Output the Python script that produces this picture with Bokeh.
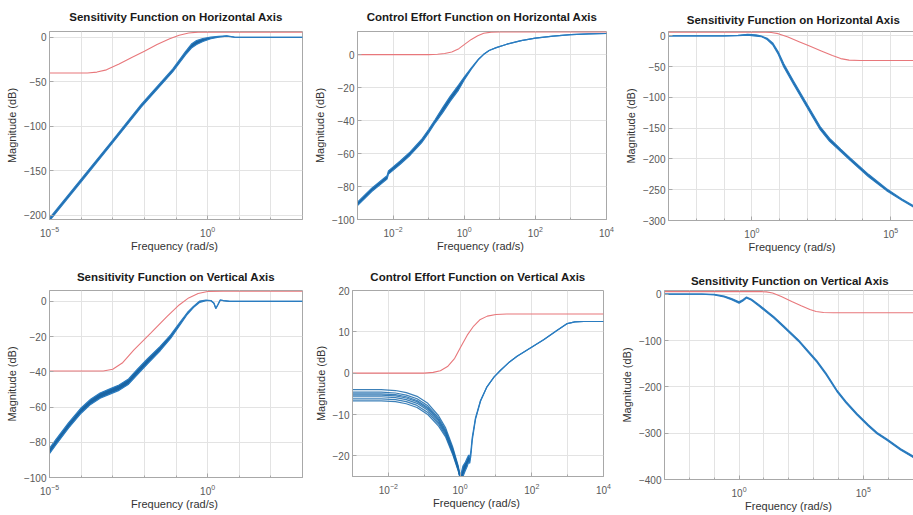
import numpy as np
from bokeh.plotting import figure
from bokeh.layouts import row, column
from bokeh.models import FixedTicker, Range1d
from bokeh.embed import file_html
from bokeh.resources import INLINE

# ---------------- data (x values are log10 of frequency in rad/s, y in dB) ----------------
# Panel 1: Sensitivity Function on Horizontal Axis
p1_x = [-5, -4, -3, -2.1, -1.1, -0.7, -0.5, -0.35, -0.15, 0.1, 0.35, 0.6, 0.85, 1.2, 3]
p1_hi = [-203.5, -159.5, -115.5, -75.5, -35.5, -16, -7, -3.5, -1.2, 0.3, 1.3, 1.9, 0.4, 0, 0]
p1_lo = [-206.5, -162.5, -118.5, -78.5, -38.5, -19.5, -11.5, -8, -4.5, -1.5, 0.3, 1.5, 0.2, 0, 0]
p1_rx = [-5, -3.8, -3.5, -3.2, -2.8, -2.4, -2.0, -1.6, -1.2, -0.9, -0.6, -0.3, 3]
p1_ry = [-40, -40, -39, -36.5, -30, -22.5, -15.5, -8, -1.5, 2.5, 5, 6, 6]

# Panel 2: Control Effort Function on Horizontal Axis
p2_x = [-3, -2.6, -2.17, -2.13, -1.8, -1.52, -1.2, -1.0, -0.82, -0.6, -0.4, -0.16, 0.0, 0.2, 0.4,
        0.54, 0.7, 0.9, 1.2, 1.6, 2.0, 2.5, 3.0, 3.5, 4.0]
p2_hi = [-89.5, -81, -73.5, -70.5, -64.5, -59, -51.5, -45.5, -39.5, -32, -25.5, -18.5, -13.6, -8, -2.8,
         0, 2.5, 4.2, 6.3, 8.5, 10, 11.2, 12.1, 12.6, 12.8]
p2_lo = [-91.5, -83, -75.5, -72.5, -66.5, -61, -53.5, -47.5, -41.5, -35, -28.5, -21.5, -15.4, -8.8, -3.0,
         0, 2.5, 4.2, 6.3, 8.5, 10, 11.2, 12.1, 12.6, 12.8]
p2_rx = [-3, -1, -0.75, -0.55, -0.35, -0.15, 0.01, 0.2, 0.38, 0.55, 0.76, 1.0, 4]
p2_ry = [0, 0, 0.2, 0.7, 1.6, 3.6, 6.2, 9.2, 11.4, 12.9, 13.6, 13.8, 13.8]

# Panel 3: Sensitivity Function on Horizontal Axis (right)
p3_x = [-3, -1, -0.5, -0.15, 0.15, 0.35, 0.55, 0.75, 0.95, 1.15, 1.5, 1.9, 2.2, 2.46, 2.8, 3.2,
        3.53, 4.2, 4.85, 5.4, 6]
p3_hi = [0, 0, 0.8, 2.5, 1.5, -0.5, -4, -11.5, -26, -45.5, -73.5, -104.5, -127.5, -147.5, -166.5,
         -184, -198, -225, -248.5, -265, -281]
p3_lo = [0, 0, 0.3, 1.0, -0.5, -1.5, -6, -14.5, -30, -50.5, -78.5, -109.5, -132.5, -152.5, -171.5,
         -188, -202, -229, -251.5, -267, -283]
p3_rx = [-3, 0.5, 0.7, 0.95, 1.3, 1.7, 2.1, 2.5, 2.9, 3.2, 3.5, 3.9, 6]
p3_ry = [6, 6, 5.5, 3.5, -2, -9.5, -17, -24.5, -32, -37, -39.5, -40, -40]

# Panel 4: Sensitivity Function on Vertical Axis
p4_x = [-5, -4.8, -4.4, -4.0, -3.7, -3.4, -3.07, -2.8, -2.5, -2.22, -1.9, -1.5, -1.17, -0.9, -0.64,
        -0.45, -0.25, -0.05, 0.1, 0.2, 0.26, 0.32, 0.4, 0.5, 0.7, 3]
p4_hi = [-83.5, -78.5, -69, -60.5, -55.5, -52, -49.5, -47.5, -44, -38.5, -32.5, -25.5, -19, -12.5,
         -6.3, -2.8, 0.2, 0.8, 0.5, -1, -4, -2, 0.8, 0.5, 0, 0]
p4_lo = [-86.5, -81.5, -72, -63.5, -58.5, -55, -52.5, -50.5, -47, -41.5, -35.5, -28, -21, -14,
         -7.3, -3.5, -0.5, 0.4, 0.5, -1, -4, -2, 0.8, 0.5, 0, 0]
p4_rx = [-5, -3.3, -3.0, -2.7, -2.33, -1.8, -1.28, -0.9, -0.6, -0.3, 0, 0.5, 3]
p4_ry = [-39.5, -39.5, -38.5, -35, -27.5, -18, -8.5, -2, 2, 4.5, 5.6, 5.8, 5.8]

# Panel 5: Control Effort Function on Vertical Axis
p5_xa = [-3, -2.2, -1.8, -1.5, -1.2, -0.9, -0.6, -0.4, -0.2, -0.05, 0.02]
p5_curves = [
    [-4.0, -4.0, -4.2, -4.7, -5.6, -7.3, -10.3, -13.3, -18.0, -22.5, -26],
    [-4.6, -4.6, -4.8, -5.3, -6.2, -7.9, -10.8, -13.8, -18.4, -22.8, -26],
    [-5.0, -5.0, -5.2, -5.7, -6.6, -8.3, -11.2, -14.1, -18.7, -23.0, -26],
    [-5.3, -5.3, -5.5, -6.0, -6.9, -8.6, -11.5, -14.4, -18.9, -23.1, -26],
    [-5.7, -5.7, -5.9, -6.4, -7.3, -9.0, -11.9, -14.7, -19.2, -23.3, -26],
    [-6.2, -6.2, -6.4, -6.9, -7.8, -9.5, -12.3, -15.1, -19.5, -23.5, -26],
    [-6.7, -6.7, -6.9, -7.4, -8.3, -10.0, -12.8, -15.5, -19.8, -23.7, -26],
]
p5_xb = [0.01, 0.08, 0.15, 0.2, 0.24, 0.27, 0.3, 0.34, 0.43, 0.57, 0.75, 0.95, 1.13, 1.35, 1.59, 1.96,
         2.33, 2.71, 2.99, 3.2, 3.45, 4.0]
p5_hi = [-25, -22.5, -21.5, -20.5, -19.8, -20.5, -19, -15.5, -10.8, -6.6, -3.3, -0.9, 0.7, 2.5, 4.1,
         6.1, 8.1, 10.4, 12, 12.4, 12.5, 12.5]
p5_lo = [-27, -25, -23.5, -22.5, -21.5, -21.8, -20, -16.2, -11.2, -6.8, -3.3, -0.9, 0.7, 2.5, 4.1,
         6.1, 8.1, 10.4, 12, 12.4, 12.5, 12.5]
p5_rx = [-3, -1, -0.75, -0.55, -0.35, -0.15, 0.01, 0.2, 0.38, 0.55, 0.76, 1.0, 1.3, 4]
p5_ry = [0, 0, 0.2, 0.6, 1.6, 3.6, 6.2, 9.2, 11.4, 12.9, 13.8, 14.2, 14.3, 14.3]

# Panel 6: Sensitivity Function on Vertical Axis (right)
p6_x = [-3, -1.5, -1.0, -0.6, -0.3, 0.0, 0.15, 0.3, 0.5, 0.8, 1.1, 1.4, 1.8, 2.39, 2.8, 3.13, 3.5,
        3.93, 4.3, 4.74, 5.2, 5.55, 5.95, 6.5, 7.1]
p6_hi = [0, 0, -0.5, -4, -9.5, -16.5, -12, -6, -11, -22.5, -35.5, -48.5, -68.5, -98.5, -123.5, -143.5,
         -170.5, -206.5, -231.5, -257.5, -281.5, -298.5, -312.5, -333.5, -352.5]
p6_lo = [0, 0, -1.5, -6, -12, -19.5, -14.5, -8, -13, -25.5, -38.5, -51.5, -71.5, -101.5, -126.5,
         -146.5, -173.5, -209.5, -234.5, -260.5, -284.5, -301.5, -315.5, -336.5, -355.5]
p6_rx = [-3, 0.9, 1.1, 1.35, 1.7, 2.12, 2.5, 2.85, 3.1, 3.4, 3.8, 7.1]
p6_ry = [5.5, 5.5, 5, 2.5, -5, -16, -25, -33, -37.5, -39.5, -40, -40]

# ---------------- styling ----------------
FONT = "Liberation Sans"
BLUE_FILL = "#0e5c9e"
BLUE_LINE = "#2a7cc0"
RED = "#e8777b"
GRID = "#e3e3e3"
FRAME = "#a8a8a8"


def f(xs):
    return (10.0 ** np.array(xs, dtype=float)).tolist()


def make(title, xr, yr, xmaj, xmin, yt, fw, fh, bl, br, bt, bb, tstand):
    p = figure(x_axis_type="log",
               x_range=Range1d(10.0 ** xr[0], 10.0 ** xr[1]),
               y_range=Range1d(yr[0], yr[1]),
               frame_width=fw, frame_height=fh,
               min_border_left=bl, min_border_right=br,
               min_border_top=bt, min_border_bottom=bb,
               output_backend="svg", toolbar_location=None, title=title)
    p.background_fill_color = "white"
    p.border_fill_color = "white"
    p.outline_line_color = FRAME
    p.outline_line_width = 1
    p.title.text_font = FONT
    p.title.text_font_size = "11.5px"
    p.title.text_font_style = "bold"
    p.title.text_color = "#1a1a1a"
    p.title.align = "center"
    p.title.standoff = tstand

    p.xaxis.ticker = FixedTicker(ticks=[10.0 ** e for e in xmaj],
                                 minor_ticks=[10.0 ** e for e in xmin])
    p.yaxis.ticker = FixedTicker(ticks=yt)
    for ax in (p.xaxis, p.yaxis):
        ax.axis_line_color = FRAME
        ax.major_tick_line_color = FRAME
        ax.minor_tick_line_color = FRAME
        ax.major_tick_in = 4
        ax.major_tick_out = 0
        ax.minor_tick_in = 2
        ax.minor_tick_out = 0
        ax.major_label_text_font = FONT
        ax.major_label_text_font_size = "10px"
        ax.major_label_text_color = "#595959"
        ax.axis_label_text_font = FONT
        ax.axis_label_text_font_size = "11px"
        ax.axis_label_text_font_style = "normal"
        ax.axis_label_text_color = "#333333"
    p.xaxis.major_label_standoff = 6
    p.yaxis.major_label_standoff = 3
    p.xaxis.axis_label_standoff = 0
    p.yaxis.axis_label_standoff = 3
    p.yaxis.minor_tick_line_color = None
    p.xaxis.axis_label = "Frequency  (rad/s)"
    p.yaxis.axis_label = "Magnitude (dB)"

    p.xgrid.grid_line_color = GRID
    p.xgrid.minor_grid_line_color = GRID
    p.ygrid.grid_line_color = GRID
    return p


def band(p, xs, hi, lo):
    fx = f(xs)
    p.varea(x=fx, y1=lo, y2=hi, fill_color=BLUE_FILL, fill_alpha=0.95)
    p.line(fx, lo, line_color=BLUE_LINE, line_width=1.2)
    p.line(fx, hi, line_color=BLUE_LINE, line_width=1.2)


def red(p, xs, ys):
    p.line(f(xs), ys, line_color=RED, line_width=1.1)


# Panel 1
P1 = make("Sensitivity Function on Horizontal Axis", (-5, 3), (-205, 6.7),
          [-5, 0], list(range(-5, 4)), [-200, -150, -100, -50, 0],
          253, 188, 49, 8, 31, 39, 17)
red(P1, p1_rx, p1_ry)
band(P1, p1_x, p1_hi, p1_lo)

# Panel 2
P2 = make("Control Effort Function on Horizontal Axis", (-3, 4), (-100, 14),
          [-2, 0, 2, 4], list(range(-3, 5)), [-100, -80, -60, -40, -20, 0],
          249, 188, 44, 15, 31, 39, 17)
red(P2, p2_rx, p2_ry)
band(P2, p2_x, p2_hi, p2_lo)

# Panel 3
P3 = make("Sensitivity Function on Horizontal Axis", (-3, 6), (-300, 7),
          [0, 5], list(range(-3, 7)), [-300, -250, -200, -150, -100, -50, 0],
          250, 189, 44, 1, 31, 38, 11)
red(P3, p3_rx, p3_ry)
band(P3, p3_x, p3_hi, p3_lo)

# Panel 4
P4 = make("Sensitivity Function on Vertical Axis", (-5, 3), (-100, 6.2),
          [-5, 0], list(range(-5, 4)), [-100, -80, -60, -40, -20, 0],
          253, 187, 49, 8, 32, 38, 16)
red(P4, p4_rx, p4_ry)
band(P4, p4_x, p4_hi, p4_lo)

# Panel 5
P5 = make("Control Effort Function on Vertical Axis", (-3, 4), (-25, 20),
          [-2, 0, 2, 4], list(range(-3, 5)), [-20, -10, 0, 10, 20],
          251, 186, 42, 14, 32, 39, 15)
red(P5, p5_rx, p5_ry)
for c in p5_curves:
    P5.line(f(p5_xa), c, line_color="#1a6aac", line_width=1.2, line_alpha=0.85)
band(P5, p5_xb, p5_hi, p5_lo)

# Panel 6
P6 = make("Sensitivity Function on Vertical Axis", (-3, 7.1), (-400, 8),
          [0, 5], list(range(-3, 8)), [-400, -300, -200, -100, 0],
          251, 189, 44, 1, 32, 36, 7)
red(P6, p6_rx, p6_ry)
band(P6, p6_x, p6_hi, p6_lo)

layout = column(row(P1, P2, P3), row(P4, P5, P6))

html = file_html(layout, INLINE, "Bode magnitude plots")
html = html.replace("<head>", "<head><style>html,body{margin:0;padding:0;}</style>", 1)
open("out.html", "w").write(html)
